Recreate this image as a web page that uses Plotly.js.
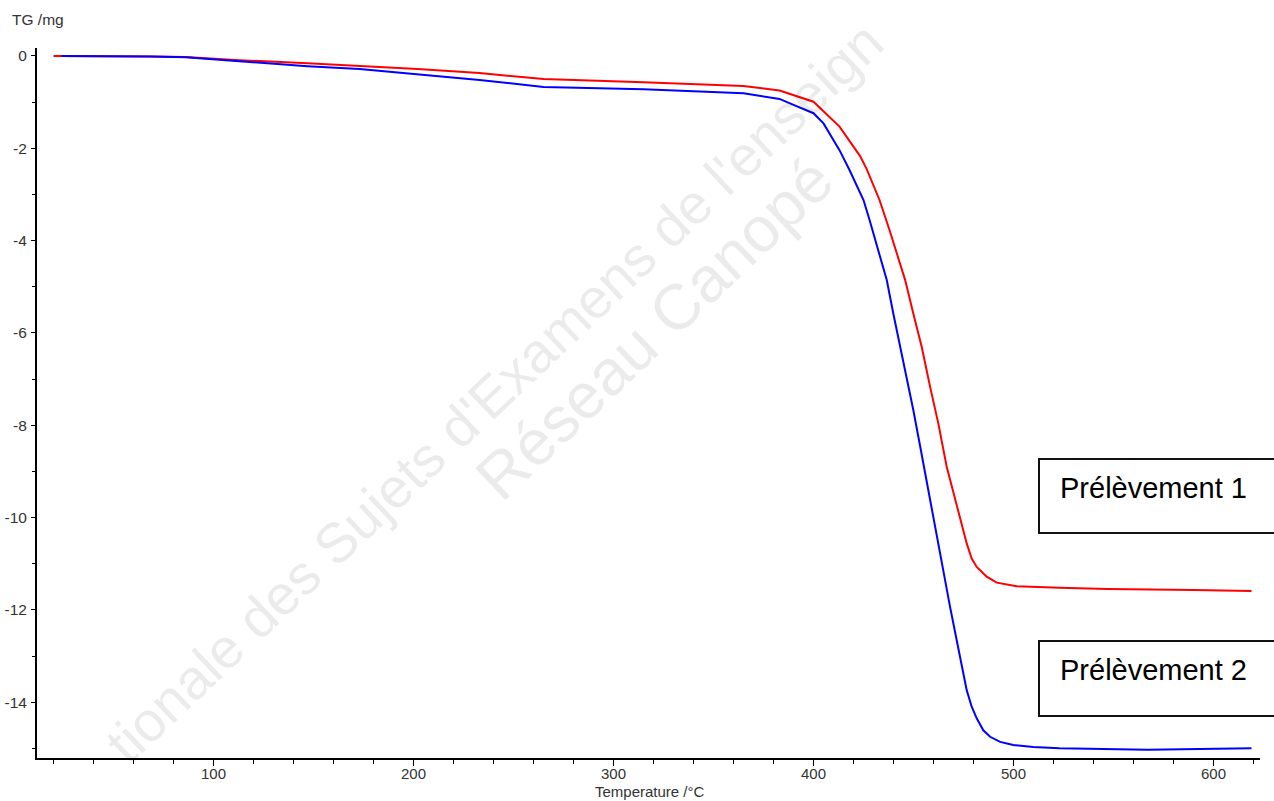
<!DOCTYPE html>
<html>
<head>
<meta charset="utf-8">
<script src="https://cdn.plot.ly/plotly-3.0.1.min.js"></script>
<style>html,body{margin:0;padding:0;background:#fff;}#chart{width:1274px;height:801px;}</style>
</head>
<body>
<div id="chart"></div>
<script>
// Prélèvement 1 (red)
const tempRed = [20, 48, 68, 86, 113, 147, 173, 202, 233, 265, 315, 365, 383, 393, 400, 413, 423.3, 426.6, 433, 438, 445.8, 449.9, 454.1, 458.3, 462.4, 466.6, 470.8, 473.3, 476.6, 479.1, 481.6, 483.3, 486.6, 491.6, 501.6, 523, 547, 590, 619];
const massRed = [0, 0, -0.01, -0.02, -0.09, -0.16, -0.21, -0.28, -0.37, -0.50, -0.57, -0.65, -0.75, -0.89, -0.99, -1.53, -2.17, -2.45, -3.12, -3.77, -4.85, -5.58, -6.30, -7.17, -7.96, -8.90, -9.62, -10.06, -10.56, -10.89, -11.07, -11.14, -11.28, -11.41, -11.49, -11.52, -11.55, -11.57, -11.59];
// Prélèvement 2 (blue)
const tempBlue = [24, 48, 69, 86, 113, 147, 173, 202, 233, 265, 315, 365, 383, 390, 400, 405, 413, 418, 425, 428, 433, 436.6, 439.9, 443.3, 446.6, 449.9, 453.3, 456.6, 458.3, 459.9, 462.4, 464.9, 468.3, 471.6, 474.1, 476.6, 479.1, 481.6, 484.9, 488.3, 493.3, 499.9, 509.9, 523, 567, 619];
const massBlue = [0, 0, -0.01, -0.03, -0.12, -0.22, -0.28, -0.39, -0.52, -0.67, -0.72, -0.81, -0.93, -1.06, -1.24, -1.46, -2.04, -2.47, -3.12, -3.55, -4.30, -4.85, -5.58, -6.30, -6.95, -7.67, -8.45, -9.23, -9.62, -10.02, -10.56, -11.21, -11.94, -12.66, -13.24, -13.74, -14.10, -14.35, -14.61, -14.75, -14.86, -14.93, -14.97, -15.00, -15.03, -15.00];

const labels = ["Prélèvement 1", "Prélèvement 2"];
const yTickVals = [0, -2, -4, -6, -8, -10, -12, -14];
const xTickVals = [100, 200, 300, 400, 500, 600];
const watermark = ["tionale des Sujets d'Examens de l'enseign", "Réseau Canopé"];

const fontFam = "Liberation Sans, Arial, sans-serif";
const traces = [
  {x: tempRed, y: massRed, type: 'scatter', mode: 'lines', line: {color: '#ff0000', width: 2}, name: labels[0], showlegend: false},
  {x: tempBlue, y: massBlue, type: 'scatter', mode: 'lines', line: {color: '#0000ff', width: 2}, name: labels[1], showlegend: false}
];

function px2x(px){ return (px - 37) / 1223; }
function px2y(py){ return (758 - py) / 710; }

const layout = {
  width: 1274, height: 801,
  margin: {l: 37, r: 14, t: 48, b: 43},
  paper_bgcolor: '#ffffff', plot_bgcolor: '#ffffff',
  font: {family: fontFam, size: 15.5, color: '#333'},
  showlegend: false,
  xaxis: {
    range: [11.75, 623.25], showgrid: false, zeroline: false,
    showline: true, linecolor: '#000', linewidth: 2,
    ticks: 'outside', ticklen: 6, tickwidth: 1, tickcolor: '#000',
    tickvals: xTickVals, ticktext: xTickVals.map(String),
    minor: {dtick: 20, tick0: 0, ticks: 'outside', ticklen: 4, tickcolor: '#000', tickwidth: 1, showgrid: false},
    tickfont: {family: fontFam, size: 15, color: '#333'},
    ticklabelstandoff: -5
  },
  yaxis: {
    range: [-15.21, 0.173], showgrid: false, zeroline: false,
    showline: true, linecolor: '#000', linewidth: 2,
    ticks: 'outside', ticklen: 4, tickwidth: 1, tickcolor: '#000',
    tickvals: yTickVals, ticktext: yTickVals.map(String),
    minor: {dtick: 1, tick0: 0, ticks: 'outside', ticklen: 3, tickcolor: '#000', tickwidth: 1, showgrid: false},
    tickfont: {family: fontFam, size: 15.5, color: '#333'},
    ticklabelstandoff: 1
  },
  shapes: [
    {type: 'rect', xref: 'paper', yref: 'paper', x0: px2x(1039), x1: px2x(1290), y0: px2y(533), y1: px2y(459), line: {color: '#111', width: 2}, fillcolor: 'rgba(255,255,255,0)'},
    {type: 'rect', xref: 'paper', yref: 'paper', x0: px2x(1039), x1: px2x(1290), y0: px2y(716), y1: px2y(641), line: {color: '#111', width: 2}, fillcolor: 'rgba(255,255,255,0)'}
  ],
  annotations: [
    {text: watermark[0], xref: 'paper', yref: 'paper', x: px2x(494), y: px2y(392), xanchor: 'center', yanchor: 'middle', showarrow: false, textangle: -43.5, font: {family: fontFam, size: 56, color: 'rgba(0,0,0,0.08)'}},
    {text: watermark[1], xref: 'paper', yref: 'paper', x: px2x(655), y: px2y(328), xanchor: 'center', yanchor: 'middle', showarrow: false, textangle: -43.5, font: {family: fontFam, size: 64, color: 'rgba(0,0,0,0.08)'}},
    {text: "TG /mg", xref: 'paper', yref: 'paper', x: px2x(10), y: px2y(19), xanchor: 'left', yanchor: 'middle', showarrow: false, font: {family: fontFam, size: 15.5, color: '#333'}},
    {text: "Temperature /°C", xref: 'paper', yref: 'paper', x: px2x(650), y: px2y(791), xanchor: 'center', yanchor: 'middle', showarrow: false, font: {family: fontFam, size: 15, color: '#333'}},
    {text: labels[0], xref: 'paper', yref: 'paper', x: px2x(1153), y: px2y(488), xanchor: 'center', yanchor: 'middle', showarrow: false, font: {family: fontFam, size: 29, color: '#000'}},
    {text: labels[1], xref: 'paper', yref: 'paper', x: px2x(1153), y: px2y(670), xanchor: 'center', yanchor: 'middle', showarrow: false, font: {family: fontFam, size: 29, color: '#000'}}
  ]
};

Plotly.newPlot('chart', traces, layout, {displayModeBar: false, staticPlot: true});
</script>
</body>
</html>
